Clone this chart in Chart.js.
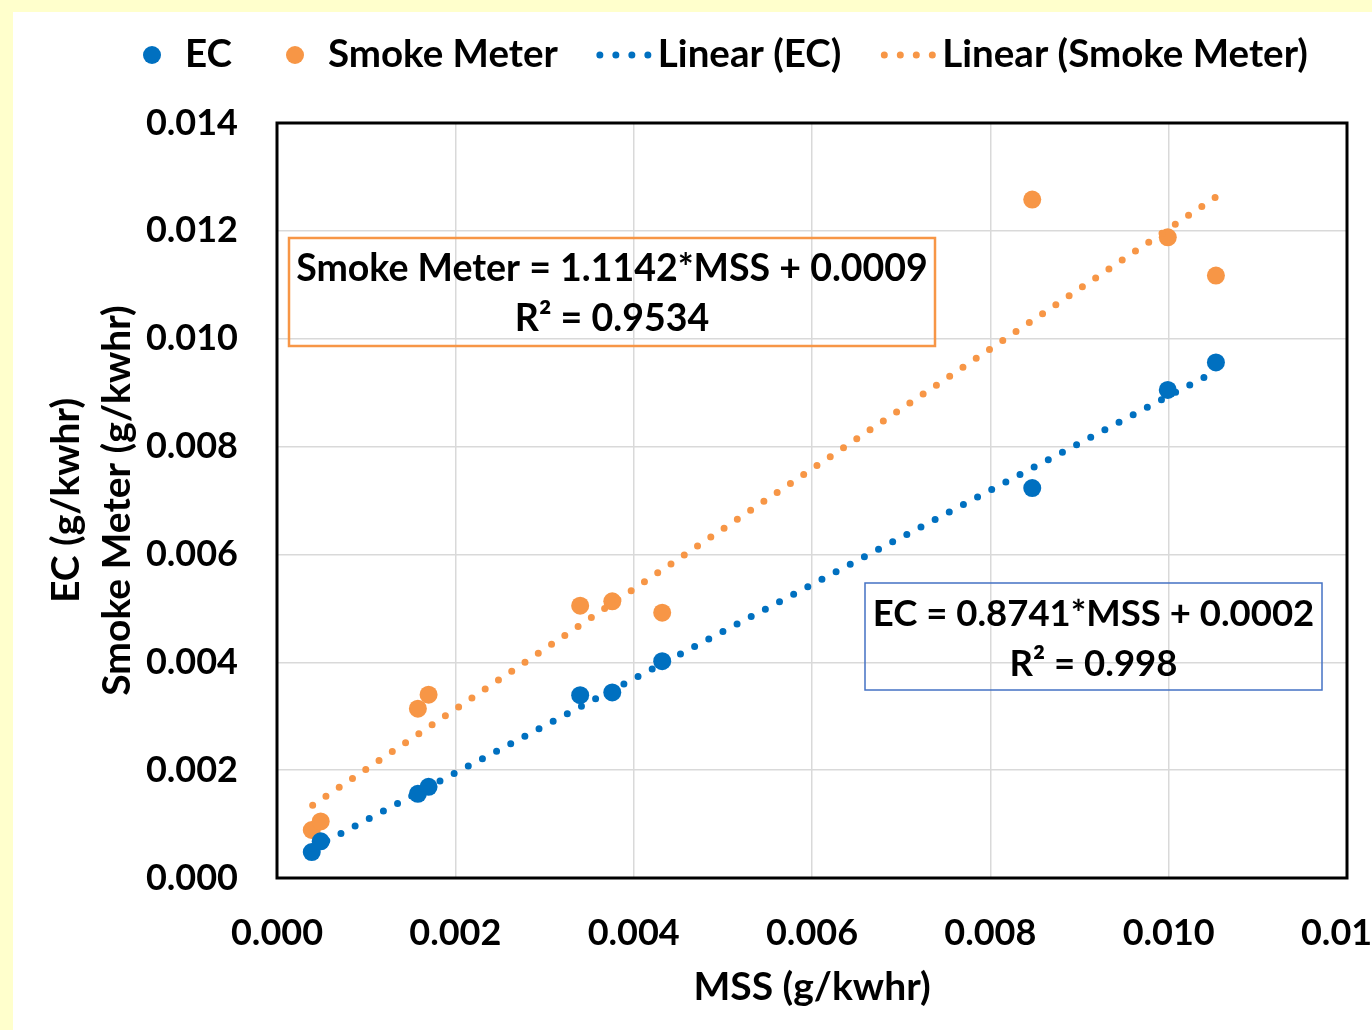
<!DOCTYPE html>
<html>
<head>
<meta charset="utf-8">
<script src="https://cdn.jsdelivr.net/npm/chart.js@4.4.1/dist/chart.umd.min.js"></script>
<style>
  html, body { margin: 0; padding: 0; width: 1372px; height: 1030px; overflow: hidden; background: #ffffcc; }
  #wrap { position: absolute; left: 13px; top: 12px; width: 1387px; height: 1018px; background: #fff; }
</style>
</head>
<body>
<div id="wrap"><canvas id="mssChart" width="1387" height="1018"></canvas></div>
<script>
// data
const mss   = [0.00039, 0.00049, 0.00158, 0.00170, 0.00340, 0.00376, 0.00432, 0.00847, 0.00999, 0.01053];
const ec    = [0.00048, 0.00068, 0.00156, 0.00169, 0.00339, 0.00344, 0.00402, 0.00723, 0.00905, 0.00956];
const smoke = [0.00089, 0.00105, 0.00314, 0.00340, 0.00505, 0.00513, 0.00492, 0.01258, 0.01188, 0.01117];

// trendline end points (from the fitted equations shown)
const trendX     = [0.0004, 0.01053];
const ecTrend    = [0.00055, 0.0094];
const smokeTrend = [0.00135, 0.01263];

const xTicks = [0, 0.002, 0.004, 0.006, 0.008, 0.010, 0.012];
const yTicks = [0, 0.002, 0.004, 0.006, 0.008, 0.010, 0.012, 0.014];

const legendLabels = ['EC', 'Smoke Meter', 'Linear (EC)', 'Linear (Smoke Meter)'];
const smokeEqn = ['Smoke Meter = 1.1142*MSS + 0.0009', 'R\u00b2 = 0.9534'];
const ecEqn    = ['EC = 0.8741*MSS + 0.0002', 'R\u00b2 = 0.998'];

const BLUE = '#0070c0';
const ORANGE = '#f79646';
const FONT = 'Lato';

function pairs(xs, ys) {
  return xs.map((x, i) => ({ x: x, y: ys[i] }));
}

const decor = {
  id: 'decor',
  beforeDatasetsDraw(chart) {
    const ctx = chart.ctx, a = chart.chartArea;
    ctx.save();
    ctx.strokeStyle = '#000';
    ctx.lineWidth = 3;
    ctx.strokeRect(a.left, a.top, a.right - a.left, a.bottom - a.top);
    ctx.restore();
  },
  afterDraw(chart) {
    const ctx = chart.ctx;
    ctx.save();
    ctx.font = 'bold 38.5px ' + FONT;
    ctx.fillStyle = '#000';
    ctx.textBaseline = 'middle';
    ctx.textAlign = 'left';

    // legend
    const ly = 43;
    let x = 139;
    const dot = (cx, col) => {
      ctx.fillStyle = col;
      ctx.beginPath(); ctx.arc(cx, ly, 9, 0, Math.PI * 2); ctx.fill();
    };
    const dotted = (x0, col) => {
      ctx.strokeStyle = col;
      ctx.lineWidth = 7;
      ctx.lineCap = 'round';
      ctx.setLineDash([0, 16]);
      ctx.beginPath(); ctx.moveTo(x0 + 4, ly); ctx.lineTo(x0 + 56, ly); ctx.stroke();
      ctx.setLineDash([]);
    };
    dot(x, BLUE);
    ctx.fillStyle = '#000';
    ctx.fillText(legendLabels[0], x + 33, ly);
    x = x + 33 + ctx.measureText(legendLabels[0]).width + 63;
    dot(x, ORANGE);
    ctx.fillStyle = '#000';
    ctx.fillText(legendLabels[1], x + 33, ly);
    x = x + 33 + ctx.measureText(legendLabels[1]).width + 38;
    dotted(x, BLUE);
    ctx.fillStyle = '#000';
    ctx.fillText(legendLabels[2], x + 62, ly);
    x = x + 62 + ctx.measureText(legendLabels[2]).width + 39;
    dotted(x, ORANGE);
    ctx.fillStyle = '#000';
    ctx.fillText(legendLabels[3], x + 62, ly);

    // equation boxes
    const box = (x0, y0, w, h, col, lw, size, lines) => {
      ctx.font = 'bold ' + size + 'px ' + FONT;
      ctx.strokeStyle = col;
      ctx.lineWidth = lw;
      ctx.strokeRect(x0, y0, w, h);
      ctx.fillStyle = '#000';
      ctx.textAlign = 'center';
      ctx.fillText(lines[0], x0 + w / 2, y0 + 31);
      ctx.fillText(lines[1], x0 + w / 2, y0 + 81);
    };
    box(276, 226, 646, 108, ORANGE, 2.5, 37.5, smokeEqn);
    box(852, 571, 457, 107, '#4472c4', 1.5, 36.5, ecEqn);
    ctx.restore();
  }
};

const ctx = document.getElementById('mssChart').getContext('2d');
const mssChart = new Chart(ctx, {
  type: 'scatter',
  data: {
    datasets: [
      {
        label: 'Linear (EC)',
        data: pairs(trendX, ecTrend),
        showLine: true,
        borderColor: BLUE,
        borderWidth: 7,
        borderDash: [0, 16],
        borderCapStyle: 'round',
        pointRadius: 0
      },
      {
        label: 'Linear (Smoke Meter)',
        data: pairs(trendX, smokeTrend),
        showLine: true,
        borderColor: ORANGE,
        borderWidth: 7,
        borderDash: [0, 16],
        borderCapStyle: 'round',
        pointRadius: 0
      },
      {
        label: 'EC',
        data: pairs(mss, ec),
        backgroundColor: BLUE,
        borderColor: BLUE,
        pointRadius: 9,
        borderWidth: 0
      },
      {
        label: 'Smoke Meter',
        data: pairs(mss, smoke),
        backgroundColor: ORANGE,
        borderColor: ORANGE,
        pointRadius: 9,
        borderWidth: 0
      }
    ]
  },
  options: {
    responsive: false,
    animation: false,
    devicePixelRatio: 1,
    layout: { padding: { top: 111, right: 53, left: 0, bottom: 0 } },
    plugins: {
      legend: { display: false },
      tooltip: { enabled: false }
    },
    scales: {
      x: {
        type: 'linear',
        min: 0,
        max: 0.012,
        afterBuildTicks: s => { s.ticks = xTicks.map(v => ({ value: v })); },
        afterFit: s => { s.height = 152; s.paddingLeft = 0; s.paddingRight = 0; },
        grid: { color: '#d9d9d9', lineWidth: 1.5, drawTicks: false },
        border: { display: false },
        ticks: {
          color: '#000',
          padding: 34,
          maxRotation: 0,
          font: { family: FONT, size: 36, weight: 'bold' },
          callback: v => v.toFixed(3)
        },
        title: {
          display: true,
          text: 'MSS (g/kwhr)',
          color: '#000',
          font: { family: FONT, size: 39, weight: 'bold', lineHeight: 1.2 },
          padding: { top: 0, bottom: 19 }
        }
      },
      y: {
        type: 'linear',
        min: 0,
        max: 0.014,
        afterBuildTicks: s => { s.ticks = yTicks.map(v => ({ value: v })); },
        afterFit: s => { s.width = 264; },
        grid: { color: '#d9d9d9', lineWidth: 1.5, drawTicks: false },
        border: { display: false },
        ticks: {
          color: '#000',
          padding: 39,
          font: { family: FONT, size: 36, weight: 'bold' },
          callback: v => v.toFixed(3)
        },
        title: {
          display: true,
          text: ['EC (g/kwhr)', 'Smoke Meter (g/kwhr)'],
          color: '#000',
          font: { family: FONT, size: 39, weight: 'bold', lineHeight: 1.3077 },
          padding: { top: 27.5, bottom: 0 }
        }
      }
    }
  },
  plugins: [decor]
});
</script>
</body>
</html>
